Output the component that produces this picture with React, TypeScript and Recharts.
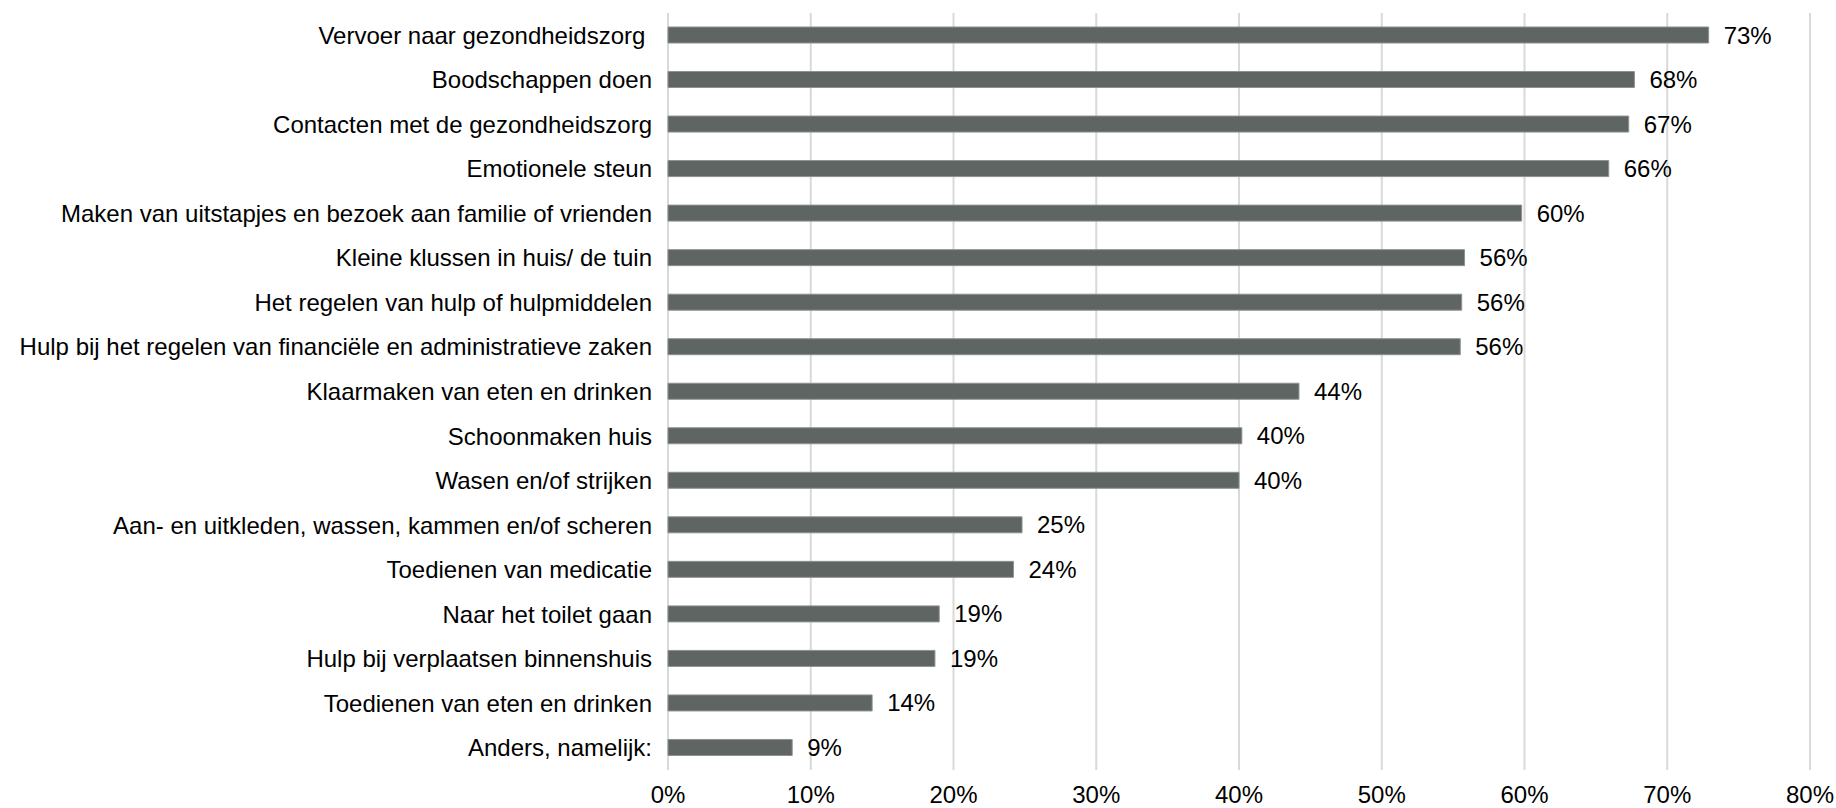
import React from 'react';
import { BarChart, Bar, XAxis, YAxis, CartesianGrid, LabelList } from 'recharts';

const categories = [
  'Vervoer naar gezondheidszorg\u00a0',
  'Boodschappen doen',
  'Contacten met de gezondheidszorg',
  'Emotionele steun',
  'Maken van uitstapjes en bezoek aan familie of vrienden',
  'Kleine klussen in huis/ de tuin',
  'Het regelen van hulp of hulpmiddelen',
  'Hulp bij het regelen van financiële en administratieve zaken',
  'Klaarmaken van eten en drinken',
  'Schoonmaken huis',
  'Wasen en/of strijken',
  'Aan- en uitkleden, wassen, kammen en/of scheren',
  'Toedienen van medicatie',
  'Naar het toilet gaan',
  'Hulp bij verplaatsen binnenshuis',
  'Toedienen van eten en drinken',
  'Anders, namelijk:',
];

const percentages = [72.9, 67.7, 67.3, 65.9, 59.8, 55.8, 55.6, 55.5, 44.2, 40.2, 40.0, 24.8, 24.2, 19.0, 18.7, 14.3, 8.7];

const xTicks = [0, 10, 20, 30, 40, 50, 60, 70, 80];

const data = categories.map((name, i) => ({ name, value: percentages[i] }));

const FONT = '"Liberation Sans", Arial, sans-serif';

const App: React.FC = () => {
  return (
    <div style={{ position: 'absolute', left: 0, top: 0, width: 1836, height: 808, background: '#fff', fontFamily: FONT }}>
      <BarChart
        layout="vertical"
        width={1836}
        height={808}
        data={data}
        margin={{ top: 13, right: 26, left: 0, bottom: 0 }}
        barCategoryGap={0}
      >
        <CartesianGrid horizontal={false} stroke="#d9d9d9" strokeWidth={2} />
        <XAxis
          type="number"
          domain={[0, 80]}
          ticks={xTicks}
          tickFormatter={(v: number) => `${v}%`}
          axisLine={false}
          tickLine={false}
          tickMargin={10}
          height={38}
          interval={0}
          tick={{ fill: '#000', fontSize: 24, fontFamily: FONT }}
        />
        <YAxis
          type="category"
          dataKey="name"
          width={668}
          axisLine={false}
          tickLine={false}
          tickMargin={10}
          interval={0}
          tick={{ fill: '#000', fontSize: 24, fontFamily: FONT }}
        />
        <Bar dataKey="value" fill="#5e6563" stroke="#8d9290" strokeWidth={1} barSize={16} isAnimationActive={false}>
          <LabelList
            dataKey="value"
            position="right"
            offset={15}
            formatter={(v: number) => `${Math.round(v)}%`}
            style={{ fill: '#000', fontSize: 24, fontFamily: FONT }}
          />
        </Bar>
      </BarChart>
    </div>
  );
};

export default App;
